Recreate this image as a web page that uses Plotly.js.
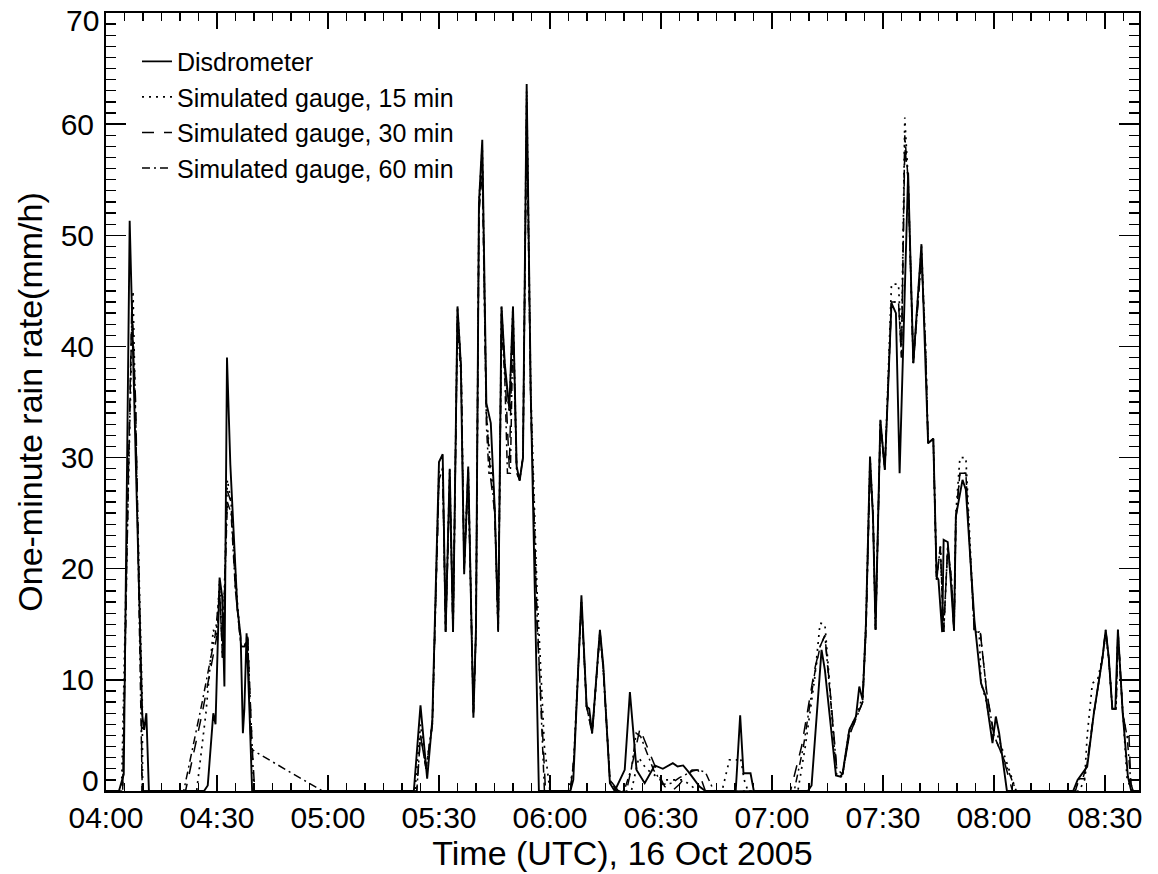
<!DOCTYPE html>
<html>
<head>
<meta charset="utf-8">
<script src="https://cdn.plot.ly/plotly-3.0.1.min.js"></script>
<style>html,body{margin:0;padding:0;background:#fff;}#chart{width:1158px;height:874px;}</style>
</head>
<body>
<div id="chart"></div>
<script>
// Minutes after 04:00 UTC, 16 Oct 2005, and rain rate (mm/h)
var disdroT = [0,3.5,4.8,6.4,9.8,10.3,10.9,11.6,
  26.5,27.5,29,29.6,30.7,31.4,32,32.7,33.6,34.5,35.5,36.4,37,37.4,38,38.8,39.5,
  83.2,85,86.8,88.2,90,91,91.8,92.9,93.8,95,95.9,96.8,97.9,99.3,100,100.8,101.7,102.8,104,105.1,106,106.9,107.8,109,110,111,111.8,112.7,113.7,114.8,117,
  125.5,126.3,128.5,129.9,130.6,131.4,133.5,134.4,136.2,137.5,140.2,141.6,143.4,145.6,148.3,150.5,153.2,154.5,156,157.5,160.4,162,170.2,171.4,172.3,174.2,175.1,
  189.7,190.7,193.4,194.3,197.3,198.5,199.1,200.9,202.7,203.6,204.5,205.4,206.5,207.3,208,209.3,210.5,212.3,213.5,214.5,216.8,218.2,220.4,222.2,223.6,224.5,225,226,226.4,227.5,228.3,229.2,229.7,231.5,232.4,233.8,234.7,236.5,237.8,239.6,240.5,241.4,243.5,
  261.4,262.6,265.2,267,269.3,270.2,271,272,272.8,273.5,274.8,276.2,277.1,280];
var disdroV = [0,0,1.5,51.3,6.8,5.5,7,0,
  0,0.5,7,6,19.2,17.5,9.4,39,29.4,23.5,16.5,13.9,5.2,7.4,14.2,7,0,
  0,7.7,1.1,6.4,29.6,30.3,14.3,29,14.3,43.6,38.4,19.5,29.2,6.6,14.7,52.9,58.6,34.9,33.1,25.2,14.5,43.6,38.4,34.4,43.6,29.2,27.9,30,63.6,36,0,
  0,1,17.6,7.6,7.4,5.2,14.5,11.3,0.7,0,1.9,8.9,1.9,0.7,2.3,2.0,2.5,2.2,2.3,1.7,0.4,0,0,6.8,1.6,1.6,0,
  0,0.5,12.7,10.9,1.4,1.3,1.6,5.5,6.7,9.4,8.2,15.1,30.1,24.7,14.5,33.4,28.9,43.9,43,28.6,55.6,38.5,49.2,31.3,31.7,19.3,19,14.3,22.6,22.4,19,14.5,24.7,28,27.1,20,15.4,9.7,8.5,4.3,6.7,5.2,0,
  0,1,2.2,7,11.9,14.5,12.1,7.4,7.4,14.5,7,1.3,0,0];

var gauge15T = [0,4.2,5.5,7.3,8.3,9.8,9.9,
  24.5,27,29,29.8,30.7,31.5,32.8,33.8,35.5,36.5,37.5,38.2,39.3,40,
  83.5,85,86.5,88.2,90,91,91.8,92.9,93.8,95,96,96.8,97.9,99.3,100,100.8,101.7,102.8,104,105.1,106,106.9,107.8,109,110,111,111.8,112.7,113.7,114.8,116.5,118.5,120,
  125,126.3,128.5,129.9,131.4,133.5,134.4,136.2,137.5,142,144,146,150,156,160,166.5,168.5,170.5,171.5,172.5,173.5,
  187,189,191.5,193,194.3,195.5,197.3,198.5,199.1,200.9,202.7,204.5,205.4,206.5,207.3,208,209.3,210.5,212.3,214.2,215,215.9,216.8,218.2,220.4,221.5,222.2,223.6,224.5,225.5,226.4,227.5,228.5,229.2,229.7,230.8,232.4,233.8,234.7,236,236.5,238,239.5,241,243,246,
  263,264.5,265.2,266.6,268,269.3,270.2,271,272,273,273.5,274.8,276,277.5,280];
var gauge15V = [0,0,20,45,28,8,0,
  0,7,14.5,14,19,12,28,26,17,13,13,14,6,0,
  0,6,2,6,29,29,14.3,29,14.3,43.6,38,20,29,7,14.3,53,58,34,29,25,14.3,43.6,38,34,43.6,29,28,30,63,36,18,4,0,
  0,2,17,7.6,5.2,14.3,11,1,0,0,3,2,1,1,0,0,2.8,2.8,3,1,0,
  0,4,10,15.1,15,10,1.6,1.2,1.5,5.5,6.7,8.5,15.1,30,25,14.5,33.4,28.9,45.6,45.6,40,60.6,55,38.5,49,40,31.3,31.7,19,22,14.3,22,19,14.3,25,30,30,20,14.3,14.3,9.7,8,5,5,3,0,
  0,1,5,9.7,10,12,14,12,7.4,7.4,14,7,1,0,0];

var gauge30T = [0,4.5,6,7,8,9.6,9.7,
  21.5,26,30,30.7,31.5,32.8,33.8,35,36.5,37.5,38.3,39.5,40.2,
  84,85,86.5,88.2,90,91,91.8,92.9,93.8,95,96,96.8,97.9,99.3,100,100.8,101.7,102.8,104,105.1,106,106.9,107.8,109,110,111,111.8,112.7,113.7,114.8,116.5,118.8,
  125.5,126.5,128.5,129.9,131.4,133.5,134.4,136.2,138.5,141,144.3,147,148.8,151,153,155,157,158.5,160,162,
  185,188,191.5,193,194.3,196,197.5,199.1,200.9,202.7,204.5,205.4,206.5,207.3,208,209.3,210.5,212.3,214.2,215,215.9,216.8,218.2,220.4,221.5,222.2,223.6,224.5,225.5,226.4,227.5,228.5,229.2,229.7,230.8,232.4,233.8,234.7,236.3,238,240,242.5,245,
  262,263,264,265.2,267,269.3,270.2,271,272,273,273.5,274.8,276,276.5,277,277.6,280];
var gauge30V = [0,0,28,44,35,7,0,
  0,7,14,18,12,27,26,18,13,13,14,4,0,
  0,5,2,6,28,29,14.3,28,14.3,43,38,20,29,7,14.3,52,57,34,28,25,14.3,43,38,29,43,28.6,28,30,62,35,15,0,
  0,3,17,7.6,5.2,14.3,11,1,0,0.5,5.6,3.4,1.9,0.4,0,0.6,1.5,1.8,1.9,0,
  0,4,10.9,13,14,8,2,1.5,5,6.5,8,14.5,29,25,14.5,33,29,44,44,39,58,55,38.5,48,40,31.3,31.7,19,22,14.3,22,19,14.3,24.5,28.6,28.6,20,14.3,14.3,9,5,3,0,
  0,1.1,1.1,2.5,7,11.9,14.5,12,7.4,7.4,14.5,7,4.9,4.9,0.7,0,0];

var gauge60T = [0,4.5,6,7,8,9.6,9.8,
  21,26,29.5,30.7,31.5,32.8,33.8,35,36.5,37.5,38.3,39.2,41,58.5,
  84,85,86.5,88.2,90,91,91.8,92.9,93.8,95,96,96.8,97.9,99.3,100,100.8,101.7,102.8,103.5,104.5,105.1,106,106.9,107.8,108.5,109.3,110,111,111.8,112.7,113.7,114.8,116.5,118.5,
  125.5,126.5,128.5,129.9,131.4,133.5,134.4,136.2,138,140,142,143.3,144.5,146,148,150.5,152.9,155,157.4,158.4,160,162,164.3,
  186,188.5,191.5,193,194.3,196,197.5,199.1,200.9,202.7,204.5,205.4,206.5,207.3,208,209.3,210.5,212.3,214.2,215,215.9,216.8,218.2,220.4,221.5,222.2,223.6,224.5,225.5,226.4,227.5,228.5,229.2,229.7,230.8,232.4,233.8,234.7,236.3,238,240,242.5,246,
  262,263,264.5,265.2,267,269.3,270.2,271,272,273,273.5,274.8,276,277,277.6,280];
var gauge60V = [0,0,27,43,34,6,0,
  0,8,14,18,12,26,25,18,13,13,14,3.8,3.4,0,
  0,5,2,6,28,29,14.5,28,14.5,42,37,20,28,7,14.5,52,56,33,28.6,28.6,25,14.5,42,37,28.6,28.6,42,28.6,28,30,61,35,16,0,
  0,3,17,7.6,5.2,14.3,11,1,0,0,2,5.2,4.9,3.6,1.9,0.6,0.7,1.2,1.6,1.9,1.9,1.7,0,
  0,4,10.5,13,14,8,2,1.5,5,6.5,8,14.3,29,25,14.5,33,29,44,44,39,59,55,38.5,48,40,31.3,31.7,19,22,14.3,22,19,14.3,24.5,28.6,28.6,20,14.3,14.3,9,5,3,0,
  0,1.1,1.1,2.5,7,11.9,14.5,12,7.4,7.4,14.5,7,4.9,0.7,0,0];

var seriesNames = ['Disdrometer','Simulated gauge, 15 min','Simulated gauge, 30 min','Simulated gauge, 60 min'];
var yTickVals = [0,10,20,30,40,50,60,70];
var yTickText = ['','10','20','30','40','50','60',''];
var yEdgeLabels = [{v: 0, text: '0', shift: 11}, {v: 70, text: '70', shift: -7}];
var xTitleText = 'Time (UTC), 16 Oct 2005';
var yTitleText = 'One-minute rain rate(mm/h)';

var base = Date.UTC(2005, 9, 16, 4, 0, 0);
function pad(n){return (n<10?'0':'')+n;}
function toDate(m){
  var d = new Date(base + Math.round(m*60000));
  return d.getUTCFullYear()+'-'+pad(d.getUTCMonth()+1)+'-'+pad(d.getUTCDate())+' '+pad(d.getUTCHours())+':'+pad(d.getUTCMinutes())+':'+pad(d.getUTCSeconds());
}
function mk(t, v, name, dash, w){
  return {x: t.map(toDate), y: v, name: name, type: 'scatter', mode: 'lines',
          line: {color: '#000', width: w, dash: dash}, cliponaxis: true};
}
var traces = [
  mk(disdroT, disdroV, seriesNames[0], 'solid', 1.9),
  mk(gauge15T, gauge15V, seriesNames[1], '2px,5px', 1.7),
  mk(gauge30T, gauge30V, seriesNames[2], '12px,10px', 1.5),
  mk(gauge60T, gauge60V, seriesNames[3], '8px,4px,2px,4px', 1.5)
];

var FONT = 'Liberation Sans, Arial, sans-serif';
var TICK = 30, TITLE = 34;
var layout = {
  width: 1158, height: 874,
  margin: {l: 106, r: 19, t: 13, b: 83},
  paper_bgcolor: '#fff', plot_bgcolor: '#fff',
  font: {family: FONT, color: '#000', size: TICK},
  showlegend: true,
  legend: {x: 0.03, y: 0.967, xanchor: 'left', yanchor: 'top', bgcolor: 'rgba(0,0,0,0)',
           font: {family: FONT, size: 25, color: '#000'}, tracegroupgap: 0, itemwidth: 30},
  xaxis: {
    type: 'date',
    range: [toDate(0), toDate(279.2)],
    tick0: toDate(0), dtick: 1800000, tickformat: '%H:%M',
    ticks: 'inside', ticklen: 16, tickwidth: 1.4, tickcolor: '#000',
    minor: {dtick: 300000, ticks: 'inside', ticklen: 8, tickwidth: 1.3, tickcolor: '#000'},
    showline: true, linecolor: '#000', linewidth: 2, mirror: 'allticks',
    showgrid: false, zeroline: false,
    tickfont: {family: FONT, size: TICK, color: '#000'},
    ticklabelstandoff: -1, ticklabeloverflow: 'allow',
    title: {text: xTitleText, font: {family: FONT, size: TITLE, color: '#000'}, standoff: 0}
  },
  yaxis: {
    range: [0, 70],
    tickmode: 'array', tickvals: yTickVals, ticktext: yTickText,
    ticks: 'inside', ticklen: 20, tickwidth: 1.4, tickcolor: '#000',
    minor: {dtick: 1, ticks: 'inside', ticklen: 10, tickwidth: 1.3, tickcolor: '#000'},
    showline: true, linecolor: '#000', linewidth: 2, mirror: 'allticks',
    showgrid: false, zeroline: false,
    tickfont: {family: FONT, size: TICK, color: '#000'},
    ticklabelstandoff: 4, ticklabeloverflow: 'allow',
    title: {text: yTitleText, font: {family: FONT, size: TITLE, color: '#000'}, standoff: 8}
  },
  annotations: yEdgeLabels.map(function(e){
    return {xref: 'paper', yref: 'y', x: 0, y: e.v, text: e.text, showarrow: false,
      xanchor: 'right', yanchor: 'middle', xshift: -5, yshift: e.shift,
      font: {family: FONT, size: TICK, color: '#000'}};
  })
};
Plotly.newPlot('chart', traces, layout, {displayModeBar: false, staticPlot: true});
</script>
</body>
</html>
